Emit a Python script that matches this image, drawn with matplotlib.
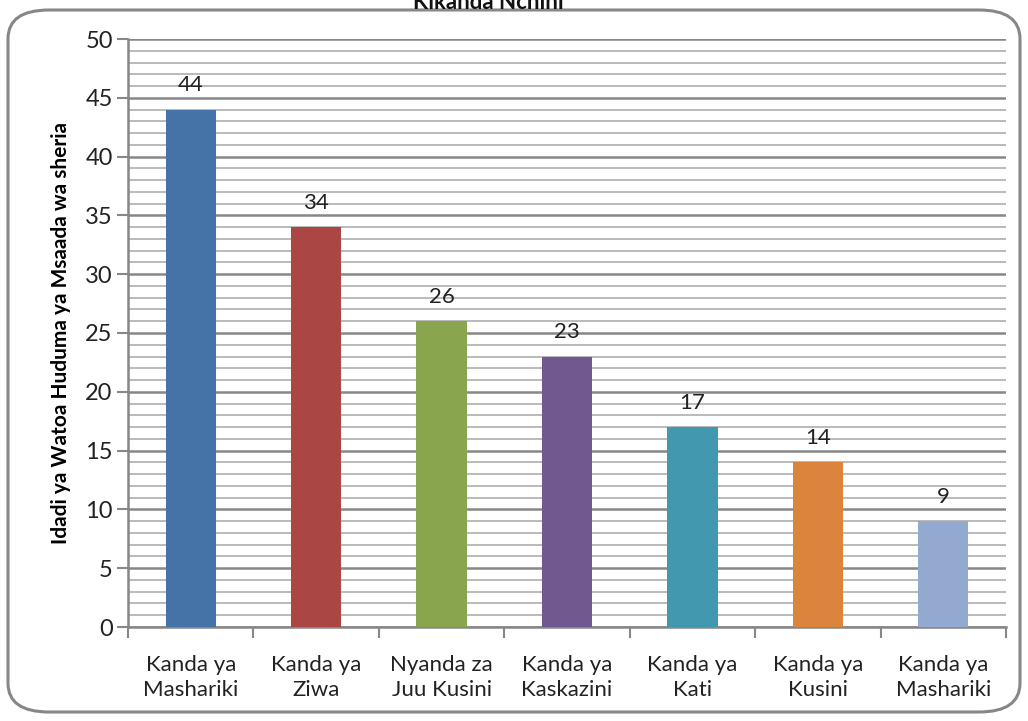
import matplotlib.pyplot as plt
from matplotlib.patches import FancyBboxPatch
from matplotlib.ticker import MultipleLocator

# Data
categories = ['Kanda ya\nMashariki', 'Kanda ya\nZiwa', 'Nyanda za\nJuu Kusini',
              'Kanda ya\nKaskazini', 'Kanda ya\nKati', 'Kanda ya\nKusini',
              'Kanda ya\nMashariki']
values = [44, 34, 26, 23, 17, 14, 9]
colors = ['#4572A7', '#AA4643', '#89A54E', '#71588F', '#4198AF', '#DB843D', '#93A9CF']

plt.rcParams['font.family'] = ['Lato', 'DejaVu Sans']

fig = plt.figure(figsize=(10.28, 7.21), dpi=100)
ax = fig.add_axes([128 / 1028, 1 - 627 / 721, 878 / 1028, 588 / 721])

# rounded border around the chart
border = FancyBboxPatch((8 / 1028, 9 / 721), 1012 / 1028, 702 / 721,
                        boxstyle='round,pad=0,rounding_size=0.04',
                        transform=fig.transFigure, facecolor='none',
                        edgecolor='#878787', linewidth=2.2, zorder=0)
fig.patches.append(border)

x = range(len(values))
ax.bar(x, values, width=0.4, color=colors, zorder=3)
for xi, v in zip(x, values):
    ax.text(xi, v + 1.2, str(v), ha='center', va='bottom', fontsize=16, color='#222222')

ax.set_xlim(-0.5, len(values) - 0.5)
ax.set_ylim(0, 50)
ax.yaxis.set_major_locator(MultipleLocator(5))
ax.yaxis.set_minor_locator(MultipleLocator(1))
ax.grid(axis='y', which='minor', color='#b4b4b4', linewidth=1.3, zorder=0)
ax.grid(axis='y', which='major', color='#878787', linewidth=1.8, zorder=1)
ax.tick_params(axis='y', which='minor', length=0)
ax.tick_params(axis='y', which='major', length=8, width=1.5, color='#878787',
               labelsize=17, pad=3, labelcolor='#222222')

ax.set_xticks([i + 0.5 for i in range(-1, len(values))])
ax.set_xticklabels([])
ax.set_xticks(list(x), minor=True)
ax.set_xticklabels(categories, minor=True, fontsize=16, color='#222222', linespacing=1.35)
ax.tick_params(axis='x', which='major', length=8, width=1.5, color='#878787', direction='out')
ax.tick_params(axis='x', which='minor', length=0, pad=20)

for side in ['top', 'right']:
    ax.spines[side].set_visible(False)
ax.spines['left'].set_color('#878787')
ax.spines['left'].set_linewidth(1.8)
ax.spines['bottom'].set_color('#878787')
ax.spines['bottom'].set_linewidth(1.8)

ax.set_ylabel('Idadi ya Watoa Huduma ya Msaada wa sheria', fontsize=15,
              fontweight='bold', labelpad=10)

# title, cut off at the top of the image as in the original
fig.text(0.475, 0.997, 'Kikanda Nchini', ha='center', va='center', fontsize=16,
         fontweight='bold', color='#111111')

fig.savefig('out.png', dpi=100)
